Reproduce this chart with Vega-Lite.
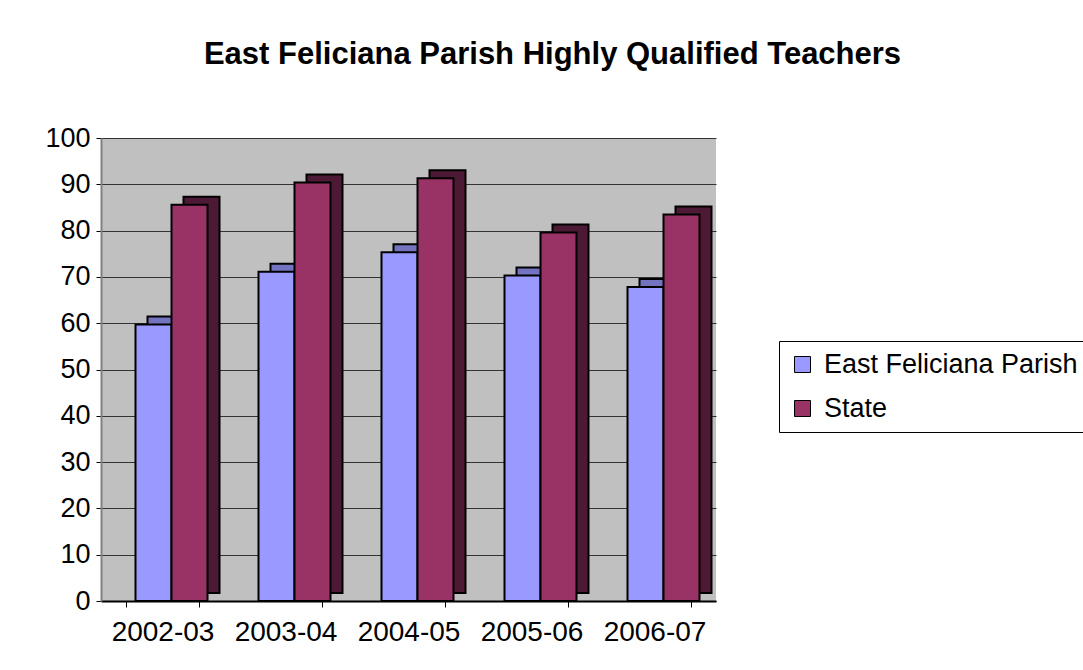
{
  "$schema": "https://vega.github.io/schema/vega-lite/v6.json",
  "width": 615,
  "height": 463,
  "autosize": {"type": "none"},
  "padding": {"left": 101, "top": 138, "right": 367, "bottom": 69},
  "background": "white",
  "title": {
    "text": "East Feliciana Parish Highly Qualified Teachers",
    "font": "Liberation Sans",
    "fontSize": 31,
    "fontWeight": "bold",
    "color": "black",
    "anchor": "middle",
    "frame": "group",
    "baseline": "alphabetic",
    "dx": 144,
    "dy": 35,
    "offset": 64
  },
  "data": {
    "values": [
      {"year": "2002-03", "series": "East Feliciana Parish", "value": 59.7},
      {"year": "2002-03", "series": "State", "value": 85.6},
      {"year": "2003-04", "series": "East Feliciana Parish", "value": 71.1},
      {"year": "2003-04", "series": "State", "value": 90.4},
      {"year": "2004-05", "series": "East Feliciana Parish", "value": 75.3},
      {"year": "2004-05", "series": "State", "value": 91.3},
      {"year": "2005-06", "series": "East Feliciana Parish", "value": 70.3},
      {"year": "2005-06", "series": "State", "value": 79.6},
      {"year": "2006-07", "series": "East Feliciana Parish", "value": 67.8},
      {"year": "2006-07", "series": "State", "value": 83.5}
    ]
  },
  "encoding": {
    "x": {
      "field": "year",
      "type": "nominal",
      "sort": null,
      "scale": {"paddingInner": 0.4, "paddingOuter": 0.2},
      "axis": {
        "title": null,
        "labelAngle": 0,
        "labelFont": "Liberation Sans",
        "labelFontSize": 28,
        "labelColor": "black",
        "labelBaseline": "alphabetic",
        "labelPadding": 33,
        "tickBand": "extent",
        "tickSize": 6,
        "tickColor": "black",
        "domainColor": "black",
        "domainWidth": 2,
        "grid": false
      }
    },
    "y": {
      "field": "value",
      "type": "quantitative",
      "scale": {"domain": [0, 100], "nice": false},
      "axis": {
        "title": null,
        "values": [0, 10, 20, 30, 40, 50, 60, 70, 80, 90, 100],
        "labelFont": "Liberation Sans",
        "labelFontSize": 27,
        "labelColor": "black",
        "labelPadding": 6,
        "tickSize": 5,
        "tickColor": "black",
        "domainColor": "#808080",
        "domainWidth": 2,
        "grid": true,
        "gridColor": "#333333",
        "gridWidth": 1
      }
    }
  },
  "layer": [
    {
      "transform": [{"filter": "datum.series === 'East Feliciana Parish'"}],
      "mark": {
        "type": "bar",
        "width": 36,
        "xOffset": 3,
        "yOffset": -8,
        "y2Offset": 0.001,
        "fill": "#7373BF",
        "stroke": "black",
        "strokeWidth": 2
      }
    },
    {
      "transform": [{"filter": "datum.series === 'East Feliciana Parish'"}],
      "mark": {
        "type": "bar",
        "width": 36,
        "xOffset": -9,
        "stroke": "black",
        "strokeWidth": 2
      },
      "encoding": {
        "color": {
          "field": "series",
          "type": "nominal",
          "scale": {"domain": ["East Feliciana Parish", "State"], "range": ["#9999FF", "#993366"]},
          "legend": {
            "title": null,
            "orient": "none",
            "legendX": 678,
            "legendY": 203,
            "strokeColor": "black",
            "fillColor": "white",
            "padding": 10,
            "symbolType": "square",
            "symbolSize": 256,
            "symbolStrokeColor": "black",
            "symbolStrokeWidth": 1,
            "symbolOpacity": 1,
            "labelFont": "Liberation Sans",
            "labelFontSize": 27,
            "labelColor": "black",
            "labelOffset": 8,
            "labelLimit": 400,
            "rowPadding": 16
          }
        }
      }
    },
    {
      "transform": [{"filter": "datum.series === 'State'"}],
      "mark": {
        "type": "bar",
        "width": 36,
        "xOffset": 39,
        "yOffset": -8,
        "y2Offset": 0.001,
        "fill": "#4D1A35",
        "stroke": "black",
        "strokeWidth": 2
      }
    },
    {
      "transform": [{"filter": "datum.series === 'State'"}],
      "mark": {
        "type": "bar",
        "width": 36,
        "xOffset": 27,
        "stroke": "black",
        "strokeWidth": 2
      },
      "encoding": {
        "color": {
          "field": "series",
          "type": "nominal",
          "scale": {"domain": ["East Feliciana Parish", "State"], "range": ["#9999FF", "#993366"]}
        }
      }
    }
  ],
  "config": {
    "view": {"fill": "#C0C0C0", "stroke": null}
  }
}
